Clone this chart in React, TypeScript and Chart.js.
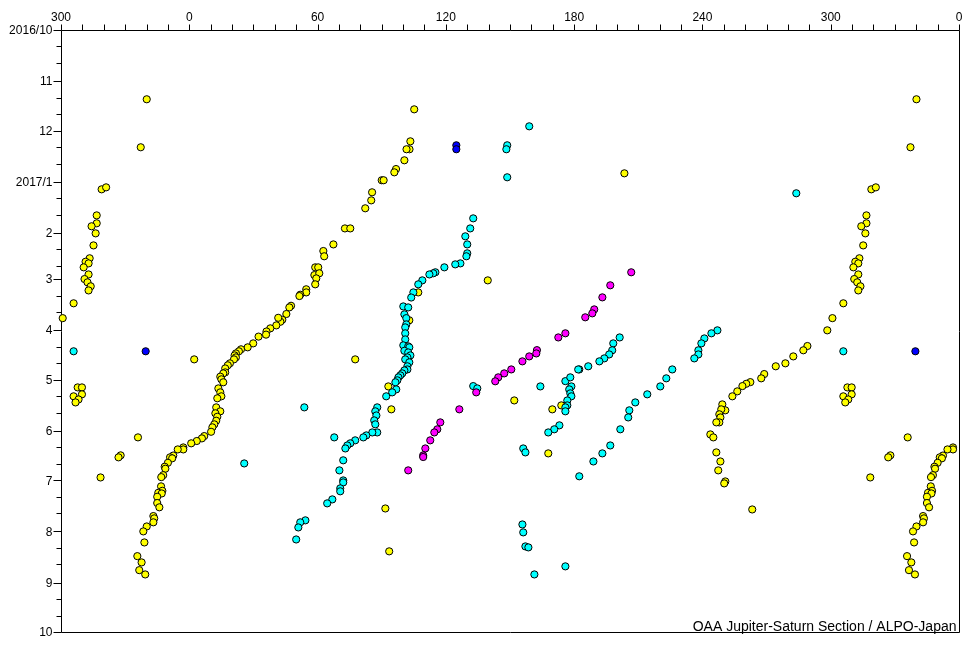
import { useEffect, useRef } from "react";
import { Chart, registerables } from "chart.js";

Chart.register(...registerables);

// Each observation: [System II longitude (deg), days since 2016-10-01]
const yellowObs: [number, number][] = [
  [340.1, 42.0], [337.3, 71.1], [105.2, 48.1], [103.4, 67.5], [103.0, 72.3], [101.6, 72.3], [100.6, 79.0],
  [96.7, 84.3], [95.9, 86.3], [90.0, 91.1], [90.9, 91.1], [85.5, 98.4], [85.1, 103.3], [82.3, 108.1],
  [72.8, 120.3], [75.3, 120.3], [67.4, 130.0], [62.7, 134.0], [63.1, 137.2], [58.9, 143.9], [60.3, 143.9],
  [58.5, 148.6], [60.8, 147.5], [59.4, 150.6], [58.9, 154.2], [54.7, 157.2], [54.7, 159.1], [51.9, 160.5],
  [51.5, 161.3], [47.6, 167.2], [46.8, 168.2], [45.4, 172.2], [43.5, 175.7], [42.6, 176.9], [41.6, 174.5],
  [40.7, 179.1], [37.9, 180.9], [36.1, 182.8], [35.9, 184.7], [32.4, 185.9], [29.9, 190.0], [27.3, 192.4],
  [24.2, 193.6], [23.2, 194.8], [21.8, 196.1], [21.2, 197.3], [21.8, 198.5], [20.9, 199.7], [19.0, 202.1],
  [18.0, 203.3], [16.8, 205.2], [16.8, 207.6], [15.9, 208.2], [14.5, 210.2], [15.0, 211.8], [15.9, 213.6],
  [13.6, 217.3], [14.5, 219.7], [15.0, 222.1], [13.1, 223.3], [12.6, 228.8], [14.5, 231.2], [12.2, 232.4],
  [13.1, 234.5], [12.6, 236.9], [11.7, 239.1], [10.8, 240.9], [10.2, 243.6], [7.0, 246.2], [5.9, 247.6],
  [3.5, 249.2], [0.9, 250.6], [357.2, 253.1], [357.2, 254.3], [354.6, 254.3], [352.5, 258.0], [351.0, 259.1],
  [352.0, 259.7], [350.0, 262.4], [348.5, 264.8], [348.8, 266.0], [347.8, 269.9], [346.9, 271.1], [346.8, 276.7],
  [347.4, 279.4], [345.5, 280.6], [347.1, 281.0], [345.0, 283.0], [345.0, 286.8], [346.0, 289.4], [343.2, 294.7],
  [343.6, 296.1], [343.2, 298.5], [340.1, 301.0], [338.5, 304.0], [339.0, 310.7], [335.7, 319.0], [337.7, 322.8],
  [336.6, 327.5], [339.4, 330.1], [2.3, 199.7], [77.6, 199.7], [139.6, 151.8], [107.1, 159.1], [102.9, 176.0],
  [93.1, 216.1], [94.5, 230.0], [91.7, 290.1], [93.5, 316.1], [152.0, 224.6], [169.8, 230.0], [174.0, 227.6],
  [167.9, 256.7], [203.5, 86.9], [263.3, 290.7],
  [282.5, 197.9], [278.8, 202.1], [274.3, 203.9], [268.9, 208.6], [267.5, 211.2], [262.4, 213.5], [260.5, 214.5],
  [258.7, 215.9], [256.3, 219.1], [254.0, 222.1], [249.3, 227.0], [250.7, 230.6], [248.8, 230.0], [247.9, 233.0],
  [248.4, 234.9], [247.9, 237.9], [246.5, 237.9], [243.7, 245.2], [245.1, 247.0], [246.5, 256.1], [248.4, 261.6],
  [247.4, 267.0], [250.7, 273.7], [250.2, 274.9], [289.1, 191.6], [287.2, 194.2], [298.4, 182.1], [300.8, 174.7],
  [305.9, 165.7],
  [319.0, 96.6], [321.1, 95.4], [316.7, 112.4], [316.7, 117.2], [314.3, 119.0], [316.2, 123.3], [315.2, 130.6],
  [313.4, 138.4], [311.5, 140.5], [312.9, 141.5], [310.6, 143.9], [312.9, 148.2], [311.0, 151.0], [312.4, 153.0],
  [313.9, 155.4], [312.9, 157.9],
  [307.8, 216.7], [309.8, 216.7], [305.9, 222.1], [309.8, 220.9], [308.2, 224.0], [306.8, 225.8], [336.0, 247.0],
  [327.9, 257.9], [326.9, 259.1], [318.5, 271.3],
];

const cyanObs: [number, number][] = [
  [159.0, 58.4], [148.7, 69.9], [148.3, 72.3], [148.7, 89.3], [283.9, 99.0], [132.8, 114.2], [131.4, 120.3],
  [129.1, 125.1], [130.0, 130.0], [130.0, 135.4], [129.6, 137.2], [126.8, 141.5], [124.4, 142.1], [119.3, 143.9],
  [115.1, 146.9], [114.1, 147.5], [112.3, 148.2], [109.0, 151.8], [107.1, 154.2], [104.8, 159.1], [103.8, 162.2],
  [100.1, 167.6], [102.4, 168.2], [100.6, 172.4], [101.5, 174.7], [101.5, 178.5], [101.0, 180.3], [101.0, 183.9],
  [101.0, 187.6], [100.1, 191.2], [102.4, 191.8], [102.9, 192.4], [100.6, 194.5], [102.4, 195.5], [103.4, 197.3],
  [102.0, 198.5], [101.0, 199.7], [102.9, 201.5], [102.0, 203.9], [102.0, 205.8], [100.6, 206.4], [99.6, 208.2],
  [98.7, 209.4], [97.8, 210.6], [97.3, 212.4], [96.4, 213.6], [96.8, 217.9], [94.9, 219.7], [92.1, 222.1],
  [87.9, 228.8], [87.0, 231.2], [87.5, 233.7], [86.5, 236.7], [87.0, 239.1], [87.9, 244.0], [85.6, 244.0],
  [82.8, 245.8], [81.4, 247.0], [77.6, 248.8], [75.3, 250.6], [73.9, 251.9], [73.0, 253.7], [72.0, 260.9],
  [70.2, 267.0], [72.0, 273.1], [72.0, 274.3], [70.6, 277.9], [70.6, 279.7], [66.9, 284.6], [64.5, 287.0],
  [54.3, 297.3], [51.9, 298.5], [51.0, 301.6], [50.0, 308.9], [53.8, 228.8], [25.7, 262.8], [67.8, 247.0],
  [132.8, 215.9], [134.7, 217.3], [164.2, 216.1], [175.9, 212.9], [178.7, 216.1], [177.7, 217.9], [178.2, 220.3],
  [178.7, 222.1], [176.8, 224.6], [176.8, 227.6], [175.9, 228.8], [175.9, 231.2], [178.2, 210.6], [173.1, 239.7],
  [170.7, 242.1], [167.9, 244.0], [156.2, 253.7], [157.2, 256.1], [155.8, 299.8], [156.2, 304.6], [157.2, 313.1],
  [158.6, 313.7], [161.4, 330.1], [175.9, 325.2],
  [201.3, 186.4], [198.3, 190.0], [197.8, 194.2], [196.4, 196.7], [194.1, 199.1], [191.8, 200.9], [186.6, 203.9],
  [182.4, 205.8], [181.9, 205.8],
  [225.9, 205.8], [223.1, 211.2], [220.3, 216.1], [214.2, 220.9], [208.6, 225.8], [205.8, 230.6], [205.3, 234.9],
  [201.6, 242.1], [196.9, 251.9], [193.2, 256.7], [189.0, 261.6], [182.4, 270.6],
  [247.0, 182.1], [244.2, 183.9], [240.9, 187.0], [239.5, 190.0], [238.1, 194.2], [238.1, 196.7], [236.2, 199.1],
  [305.9, 194.8],
];

const magentaObs: [number, number][] = [
  [206.7, 146.9], [196.9, 154.8], [193.2, 162.1], [189.4, 169.4], [188.5, 171.8], [185.2, 174.2], [175.9, 183.9],
  [172.6, 186.4], [162.6, 194.1], [162.3, 196.1], [159.0, 197.9], [155.8, 200.9], [150.6, 205.8], [147.3, 208.2],
  [144.5, 210.6], [143.1, 213.0], [134.2, 219.7], [126.3, 230.0], [117.4, 237.9], [116.0, 242.1], [114.6, 244.0],
  [112.7, 248.8], [110.4, 253.7], [109.4, 257.9], [109.4, 258.9], [102.4, 267.0],
];

const blueObs: [number, number][] = [
  [124.9, 69.9], [124.9, 72.3], [339.6, 194.8],
];

// Axis labels
const lonTickValues = [-60, 0, 60, 120, 180, 240, 300, 360];
const lonTickLabels = ["300", "0", "60", "120", "180", "240", "300", "0"];
const monthLabels = ["2016/10", "11", "12", "2017/1", "2", "3", "4", "5", "6", "7", "8", "9", "10"];
const footerText = "OAA Jupiter-Saturn Section / ALPO-Japan";

const START = Date.UTC(2016, 9, 1);
const DAY_MS = 86400000;
const dayOf = (y: number, m: number, d: number) => (Date.UTC(y, m, d) - START) / DAY_MS;

// plot each observation at its longitude and its wrapped copies within the axis range
function wrapPoints(obs: [number, number][]) {
  const out: { x: number; y: number }[] = [];
  obs.forEach(([lon, day]) => {
    [-360, 0, 360].forEach((s) => {
      const v = lon + s;
      if (v >= -60 && v <= 360) out.push({ x: v, y: day });
    });
  });
  return out;
}

const FONT = '12px "Liberation Sans", Arial, sans-serif';

const axesPlugin = {
  id: "customAxes",
  beforeDatasetsDraw(chart: any) {
    const { ctx, chartArea: a, scales } = chart;
    const xs = scales.x;
    const ys = scales.y;
    const L = Math.round(a.left) + 0.5;
    const T = Math.round(a.top) + 0.5;
    const R = Math.round(a.right) + 0.5;
    const B = Math.round(a.bottom) + 0.5;
    ctx.save();
    ctx.strokeStyle = "#000";
    ctx.lineWidth = 1;
    ctx.beginPath();
    ctx.rect(L, T, R - L, B - T);
    // top longitude ticks every 10 degrees
    for (let v = -60; v <= 360; v += 10) {
      const px = Math.round(xs.getPixelForValue(v)) + 0.5;
      ctx.moveTo(px, T);
      ctx.lineTo(px, T - 6);
    }
    // left date ticks: 1st (long), 11th and 21st (short)
    for (let m = 0; m <= 12; m++) {
      const yy = 2016 + Math.floor((9 + m) / 12);
      const mm = (9 + m) % 12;
      const py = Math.round(ys.getPixelForValue(dayOf(yy, mm, 1))) + 0.5;
      ctx.moveTo(L, py);
      ctx.lineTo(L - 8, py);
      if (m < 12) {
        [11, 21].forEach((d) => {
          const q = Math.round(ys.getPixelForValue(dayOf(yy, mm, d))) + 0.5;
          ctx.moveTo(L, q);
          ctx.lineTo(L - 5, q);
        });
      }
    }
    ctx.stroke();

    ctx.fillStyle = "#000";
    ctx.font = FONT;
    ctx.textAlign = "center";
    ctx.textBaseline = "alphabetic";
    lonTickValues.forEach((v, i) => {
      ctx.fillText(lonTickLabels[i], xs.getPixelForValue(v), T - 10);
    });
    ctx.textAlign = "right";
    ctx.textBaseline = "middle";
    monthLabels.forEach((lab, m) => {
      const yy = 2016 + Math.floor((9 + m) / 12);
      const mm = (9 + m) % 12;
      ctx.fillText(lab, L - 9, ys.getPixelForValue(dayOf(yy, mm, 1)) + 1);
    });
    ctx.font = '14px "Liberation Sans", Arial, sans-serif';
    ctx.textAlign = "right";
    ctx.textBaseline = "alphabetic";
    ctx.fillText(footerText, R - 3, B - 2);
    ctx.restore();
  },
};

function ds(label: string, obs: [number, number][], color: string) {
  return {
    label,
    data: wrapPoints(obs),
    backgroundColor: color,
    borderColor: "#000",
    borderWidth: 1,
    pointRadius: 3.6,
    pointHoverRadius: 3.6,
    clip: false as any,
  };
}

export default function App() {
  const ref = useRef<HTMLCanvasElement>(null);
  useEffect(() => {
    if (!ref.current) return;
    const chart = new Chart(ref.current, {
      type: "scatter",
      data: {
        datasets: [
          ds("blue", blueObs, "#0000FF"),
          ds("magenta", magentaObs, "#FF00FF"),
          ds("cyan", cyanObs, "#00FFFF"),
          ds("yellow", yellowObs, "#FFFF00"),
        ],
      },
      options: {
        animation: false,
        responsive: false,
        events: [],
        layout: { padding: { left: 61, right: 21, top: 30, bottom: 18 } },
        plugins: { legend: { display: false }, tooltip: { enabled: false } },
        scales: {
          x: { type: "linear", min: -60, max: 360, display: false },
          y: { type: "linear", min: 0, max: 365, reverse: true, display: false },
        },
      },
      plugins: [axesPlugin],
    });
    return () => chart.destroy();
  }, []);
  return (
    <div style={{ position: "absolute", left: 0, top: 0, width: 980, height: 650, background: "#fff" }}>
      <canvas ref={ref} width={980} height={650} style={{ display: "block" }} />
    </div>
  );
}
